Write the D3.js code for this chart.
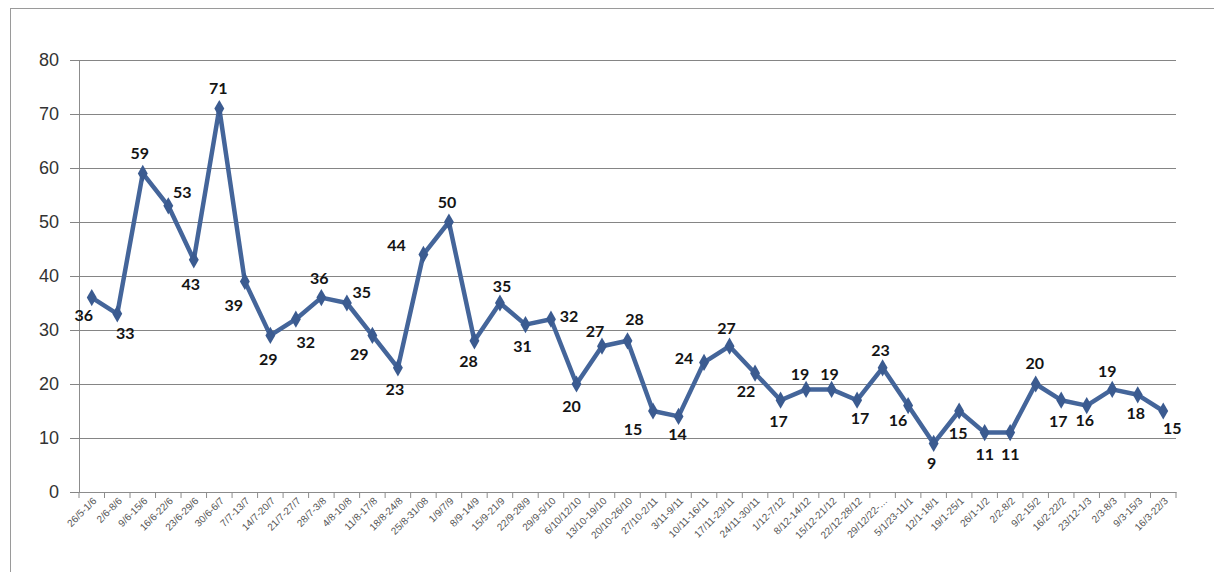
<!DOCTYPE html>
<html>
<head>
<meta charset="utf-8">
<script src="https://cdn.jsdelivr.net/npm/d3@7"></script>
<style>
    body { margin: 0; background: #fff; }
    #canvas { width: 1214px; height: 572px; }
</style>
</head>
<body>
<div id="canvas"></div>
<script>
"use strict"

let weeks = ["26/5-1/6", "2/6-8/6", "9/6-15/6", "16/6-22/6", "23/6-29/6", "30/6-6/7",
    "7/7-13/7", "14/7-20/7", "21/7-27/7", "28/7-3/8", "4/8-10/8", "11/8-17/8",
    "18/8-24/8", "25/8-31/08", "1/9/7/9", "8/9-14/9", "15/9-21/9", "22/9-28/9",
    "29/9-5/10", "6/10/12/10", "13/10-19/10", "20/10-26/10", "27/10-2/11", "3/11-9/11",
    "10/11-16/11", "17/11-23/11", "24/11-30/11", "1/12-7/12", "8/12-14/12", "15/12-21/12",
    "22/12-28/12", "29/12/22-…", "5/1/23-11/1", "12/1-18/1", "19/1-25/1", "26/1-1/2",
    "2/2-8/2", "9/2-15/2", "16/2-22/2", "23/12-1/3", "2/3-8/3", "9/3-15/3", "16/3-22/3"]

let counts = [36, 33, 59, 53, 43, 71, 39, 29, 32, 36, 35, 29, 23, 44, 50, 28, 35, 31, 32,
    20, 27, 28, 15, 14, 24, 27, 22, 17, 19, 19, 17, 23, 16, 9, 15, 11, 11, 20, 17, 16,
    19, 18, 15]

let yTicks = [0, 10, 20, 30, 40, 50, 60, 70, 80]

// where each value label sits next to its point, [dx, dy] of the label centre
let labelNudge = [[-8, 18], [8, 19], [-3, -20], [14, -14], [-3, 24], [-1, -20], [-11, 24],
    [-2, 24], [10, 23], [-2, -19], [15, -11], [-13, 19], [-3, 21], [-27, -9], [-2, -20],
    [-6, 20], [2, -17], [-3, 22], [18, -3], [-5, 22], [-7, -15], [7, -22], [-20, 18],
    [-1, 18], [-20, -4], [-3, -18], [-9, 18], [-2, 21], [-6, -15], [-2, -15], [3, 18],
    [-2, -18], [-10, 15], [-2, 20], [-1, 22], [0, 22], [0, 22], [-1, -21], [-3, 21],
    [-2, 15], [-5, -18], [-2, 18], [9, 17]]

let svgWidth = 1214
let svgHeight = 572

let margin = { top: 60, right: 38, bottom: 80, left: 79 }
let vizWidth = svgWidth - margin.left - margin.right
let vizHeight = svgHeight - margin.top - margin.bottom

let svg = d3.select("#canvas")
    .append("svg")
    .attr("width", svgWidth)
    .attr("height", svgHeight)
    .style("font-family", "Lato, 'Liberation Sans', sans-serif")

svg.append("rect")
    .attr("x", 10.5)
    .attr("y", 8.5)
    .attr("width", svgWidth)
    .attr("height", svgHeight)
    .attr("fill", "none")
    .attr("stroke", "#9a9a9a")

let viz = svg.append("g")
    .attr("transform", `translate(${margin.left},${margin.top})`)

let xScale = d3.scaleBand()
    .domain(weeks)
    .range([0, vizWidth])

let yScale = d3.scaleLinear()
    .domain([0, 80])
    .range([vizHeight, 0])

// gridlines + y axis
let yAxis = viz.append("g")
    .call(d3.axisLeft(yScale).tickValues(yTicks).tickSize(-vizWidth).tickSizeOuter(0).tickPadding(20))
yAxis.select(".domain").attr("stroke", "#8c8c8c")
yAxis.selectAll(".tick line")
    .attr("x1", -9)
    .attr("stroke", "#858585")
yAxis.selectAll(".tick text")
    .attr("font-size", 18)
    .attr("fill", "#333")

// x axis, ticks between the categories
let xAxis = viz.append("g")
    .attr("transform", `translate(0,${vizHeight})`)
    .call(d3.axisBottom(xScale).tickSize(0).tickSizeOuter(0))
xAxis.select(".domain").attr("stroke", "#8c8c8c")
xAxis.selectAll(".tick text")
    .attr("font-size", 10)
    .attr("fill", "#555")
    .attr("text-anchor", "end")
    .attr("transform", "translate(3,7) rotate(-45)")
    .attr("dy", "0.35em")
    .attr("y", 0)

viz.selectAll("line.xtick")
    .data(d3.range(weeks.length + 1))
    .join("line")
    .classed("xtick", true)
    .attr("x1", function (i) { return i * xScale.step() })
    .attr("x2", function (i) { return i * xScale.step() })
    .attr("y1", vizHeight)
    .attr("y2", vizHeight + 6)
    .attr("stroke", "#8c8c8c")

let points = counts.map(function (value, i) {
    return { week: weeks[i], value: value, nudge: labelNudge[i] }
})

let xOf = function (d) { return xScale(d.week) + xScale.bandwidth() / 2 }

let line = d3.line()
    .x(xOf)
    .y(function (d) { return yScale(d.value) })

viz.append("path")
    .datum(points)
    .attr("d", line)
    .attr("fill", "none")
    .attr("stroke", "#44659a")
    .attr("stroke-width", 4.5)
    .attr("stroke-linejoin", "round")

viz.selectAll("path.marker")
    .data(points)
    .join("path")
    .classed("marker", true)
    .attr("d", d3.symbol().type(d3.symbolDiamond).size(85))
    .attr("transform", function (d) {
        return `translate(${xOf(d)},${yScale(d.value)})`
    })
    .attr("fill", "#3b5b90")

viz.selectAll("text.value")
    .data(points)
    .join("text")
    .classed("value", true)
    .attr("x", function (d) { return xOf(d) + d.nudge[0] })
    .attr("y", function (d) { return yScale(d.value) + d.nudge[1] })
    .attr("dy", "0.36em")
    .attr("text-anchor", "middle")
    .attr("font-size", 16)
    .attr("font-weight", "bold")
    .attr("fill", "#141414")
    .text(function (d) { return d.value })
</script>
</body>
</html>
